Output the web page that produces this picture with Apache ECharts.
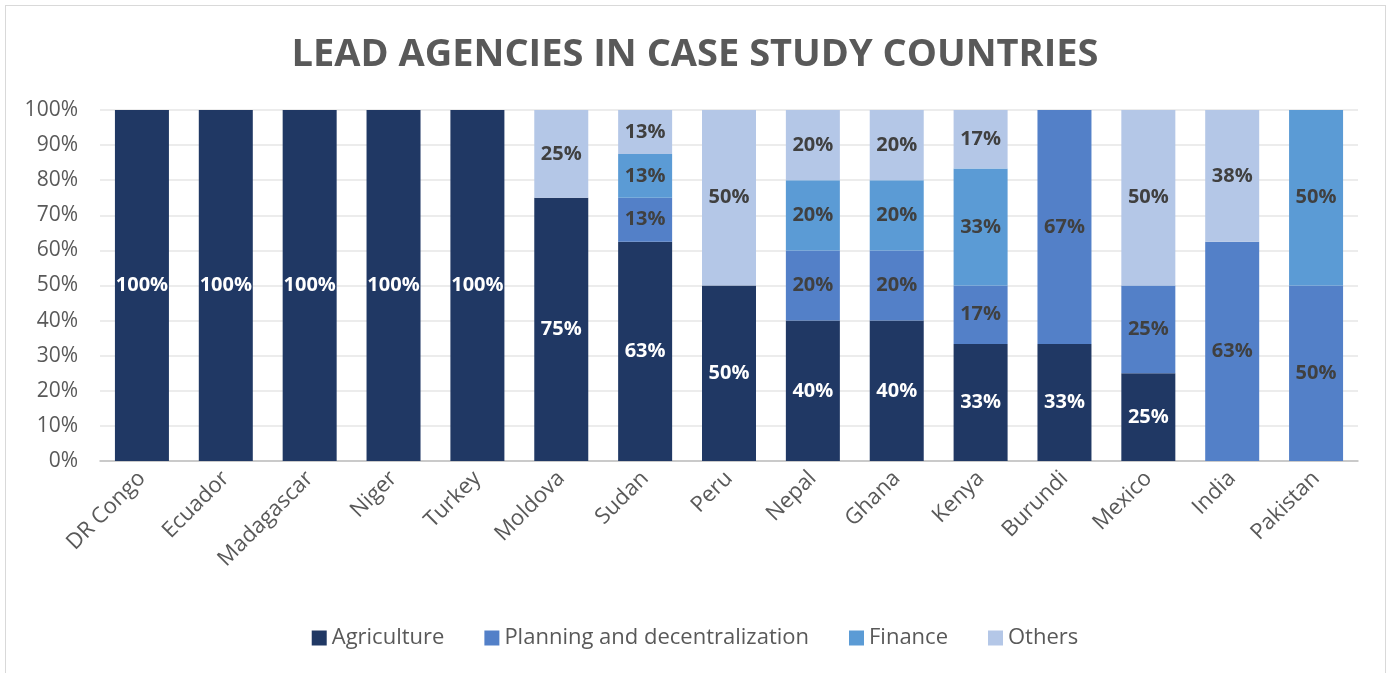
<!DOCTYPE html>
<html>
<head>
<meta charset="utf-8">
<script src="https://cdn.jsdelivr.net/npm/echarts@6/dist/echarts.min.js"></script>
<style>
  html, body { margin: 0; padding: 0; background: #fff; }
  #frame { position: absolute; left: 5px; top: 5px; width: 1381px; height: 680px; border: 1px solid #d9d9d9; box-sizing: border-box; }
  #chart { width: 1390px; height: 673px; }
</style>
</head>
<body>
<div id="frame"></div>
<div id="chart"></div>
<script>
// data (share of lead agencies, %)
const countries = ['DR Congo', 'Ecuador', 'Madagascar', 'Niger', 'Turkey', 'Moldova', 'Sudan', 'Peru', 'Nepal', 'Ghana', 'Kenya', 'Burundi', 'Mexico', 'India', 'Pakistan'];
const agriculture = [100, 100, 100, 100, 100, 75, 62.5, 50, 40, 40, 33.33, 33.33, 25, null, null];
const planning = [null, null, null, null, null, null, 12.5, null, 20, 20, 16.67, 66.67, 25, 62.5, 50];
const finance = [null, null, null, null, null, null, 12.5, null, 20, 20, 33.33, null, null, null, 50];
const others = [null, null, null, null, null, 25, 12.5, 50, 20, 20, 16.67, null, 50, 37.5, null];
const yTicks = [0, 10, 20, 30, 40, 50, 60, 70, 80, 90, 100];

const font = '"Open Sans", "Noto Sans", sans-serif';
const chart = echarts.init(document.getElementById('chart'));

function bar(name, data, color, labelColor) {
  return {
    name: name,
    type: 'bar',
    stack: 'total',
    data: data,
    barWidth: 54,
    itemStyle: { color: color },
    label: {
      show: true,
      position: 'inside',
      color: labelColor,
      fontFamily: font,
      fontWeight: 'bold',
      fontSize: 20,
      formatter: p => Math.round(p.value) + '%'
    }
  };
}

chart.setOption({
  animation: false,
  title: {
    text: 'LEAD AGENCIES IN CASE STUDY COUNTRIES',
    left: 'center',
    top: 31,
    textStyle: { fontFamily: font, fontSize: 38, fontWeight: 'bold', color: '#595959' }
  },
  legend: {
    bottom: 19,
    left: 'center',
    itemWidth: 15,
    itemHeight: 15,
    itemGap: 40,
    icon: 'rect',
    textStyle: { fontFamily: font, fontSize: 22, color: '#595959' }
  },
  grid: { left: 100, right: 32, top: 110, bottom: 212, containLabel: false },
  xAxis: {
    type: 'category',
    data: countries,
    axisTick: { show: false },
    axisLine: { lineStyle: { color: '#bfbfbf', width: 1.5 } },
    axisLabel: { rotate: 45, interval: 0, fontFamily: font, fontSize: 22, color: '#595959', margin: 14 }
  },
  yAxis: {
    type: 'value',
    min: yTicks[0],
    max: yTicks[yTicks.length - 1],
    interval: yTicks[1] - yTicks[0],
    axisLine: { show: false },
    axisTick: { show: false },
    splitLine: { lineStyle: { color: '#e6e6e6', width: 1.5 } },
    axisLabel: { fontFamily: font, fontSize: 21, color: '#595959', margin: 22, formatter: v => v + '%' }
  },
  series: [
    bar('Agriculture', agriculture, '#203864', '#ffffff'),
    bar('Planning and decentralization', planning, '#5380c8', '#404040'),
    bar('Finance', finance, '#5b9bd5', '#404040'),
    bar('Others', others, '#b4c7e7', '#404040')
  ]
});
</script>
</body>
</html>
